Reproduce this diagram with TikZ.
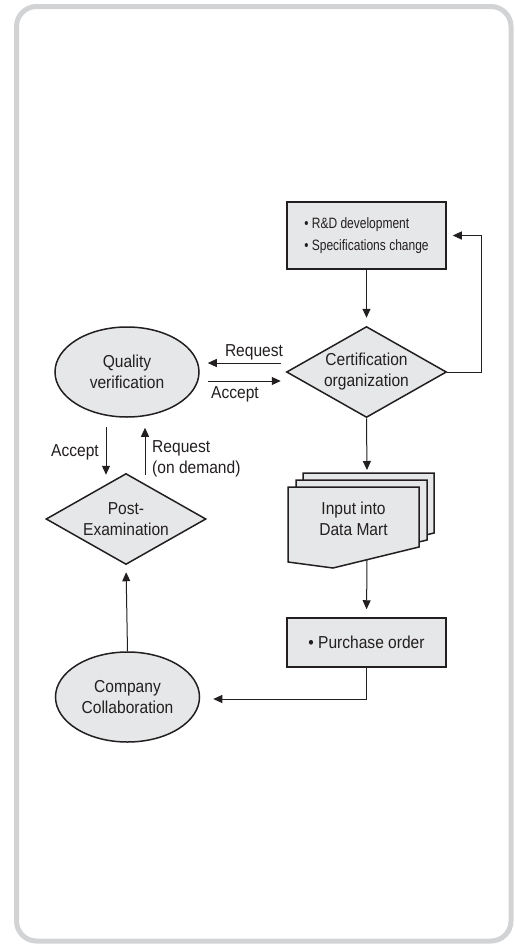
\documentclass[tikz,border=0pt]{standalone}
\usepackage{fontspec}
\setmainfont[FakeStretch=0.9]{Liberation Sans}
\newfontfamily\boxfont[FakeStretch=0.8]{Liberation Sans}
\usetikzlibrary{shapes.geometric,arrows.meta,calc}
\definecolor{boxfill}{HTML}{E6E7E8}
\definecolor{ink}{HTML}{231F20}
\definecolor{frame}{HTML}{D2D3D5}
\begin{document}
\begin{tikzpicture}[x=1pt,y=-1pt,
  mainfont/.style={font=\fontsize{17.3}{21}\selectfont},
  shapebox/.style={draw=ink,fill=boxfill,line width=1.5pt,inner sep=0pt,mainfont,text=ink},
  rectbox/.style={shapebox,rectangle,minimum width=159pt},
  diam/.style={shapebox,diamond,shape aspect=1.78,minimum width=160pt,minimum height=91pt,align=center},
  ell/.style={shapebox,ellipse,minimum width=144pt,minimum height=90pt,align=center},
  arr/.style={draw=ink,line width=1pt,-{Triangle[length=9pt,width=8pt]}},
  lbl/.style={mainfont,text=ink,inner sep=0pt}
]
\useasboundingbox (0,0) rectangle (514,945);
\draw[frame,line width=5pt,rounded corners=20pt] (16.5,6.5) rectangle (511,941);

% nodes
\node[rectbox,minimum height=67pt,align=left,font=\boxfont\fontsize{15}{22}\selectfont] (rd) at (366.5,235.5)
  {• R\&D development\\• Specifications change};
\node[diam] (cert) at (366.5,372) {Certification\\organization};
\node[ell] (qv) at (127,372) {Quality\\verification};
\node[diam] (post) at (126,519) {Post-\\Examination};
\node[ell] (comp) at (127.5,697) {Company\\Collaboration};
\node[rectbox,minimum height=49pt] (po) at (366.5,642.5) {• Purchase order};

% document stack
\foreach \dx/\dy in {15/-14,8/-7,0/0}{
  \draw[draw=ink,fill=boxfill,line width=1.5pt]
    (288+\dx,487+\dy) -- (419+\dx,487+\dy) -- (419+\dx,547+\dy) -- (333+\dx,568+\dy) -- (288+\dx,562+\dy) -- cycle;
}
\node[lbl,align=center] (doc) at (353.5,518.5) {Input into\\Data Mart};
\coordinate (doctop) at (367,473);
\coordinate (docbot) at (367,560);

% connectors
\draw[arr,shorten >=8pt] (rd.south) -- (cert.north);
\draw[arr,shorten >=6pt] (cert.east) -- ++(34,0) |- (rd.east);
\draw[arr,shorten >=3pt] (cert.south) -- (doctop);
\draw[arr,shorten >=8pt] (docbot) -- (po.north);
\draw[arr] (po.south) |- ([xshift=13pt,yshift=-2pt]comp.east);
\draw[arr,shorten >=7pt] (comp.north) -- (post.south);

\draw[arr] ([xshift=-5pt,yshift=9pt]cert.west) -- ([xshift=8pt,yshift=9pt]qv.east);
\draw[arr] ([xshift=8pt,yshift=-9pt]qv.east) -- ([xshift=-5pt,yshift=-9pt]cert.west);
\draw[arr] ([xshift=-21pt,yshift=-9pt]qv.south) -- ([xshift=-20pt,yshift=-2pt]post.north);
\draw[arr] ([xshift=19pt,yshift=-2pt]post.north) -- ([xshift=18pt,yshift=-10pt]qv.south);

% labels
\node[lbl] (lreq) at (254,352) {Request};
\node[lbl] (lacc) at (235,394) {Accept};
\node[lbl] (lacc2) at (75,452) {Accept};
\node[lbl,align=left,anchor=west] (lreq2) at (152,458.5) {Request\\(on demand)};
\end{tikzpicture}
\end{document}
